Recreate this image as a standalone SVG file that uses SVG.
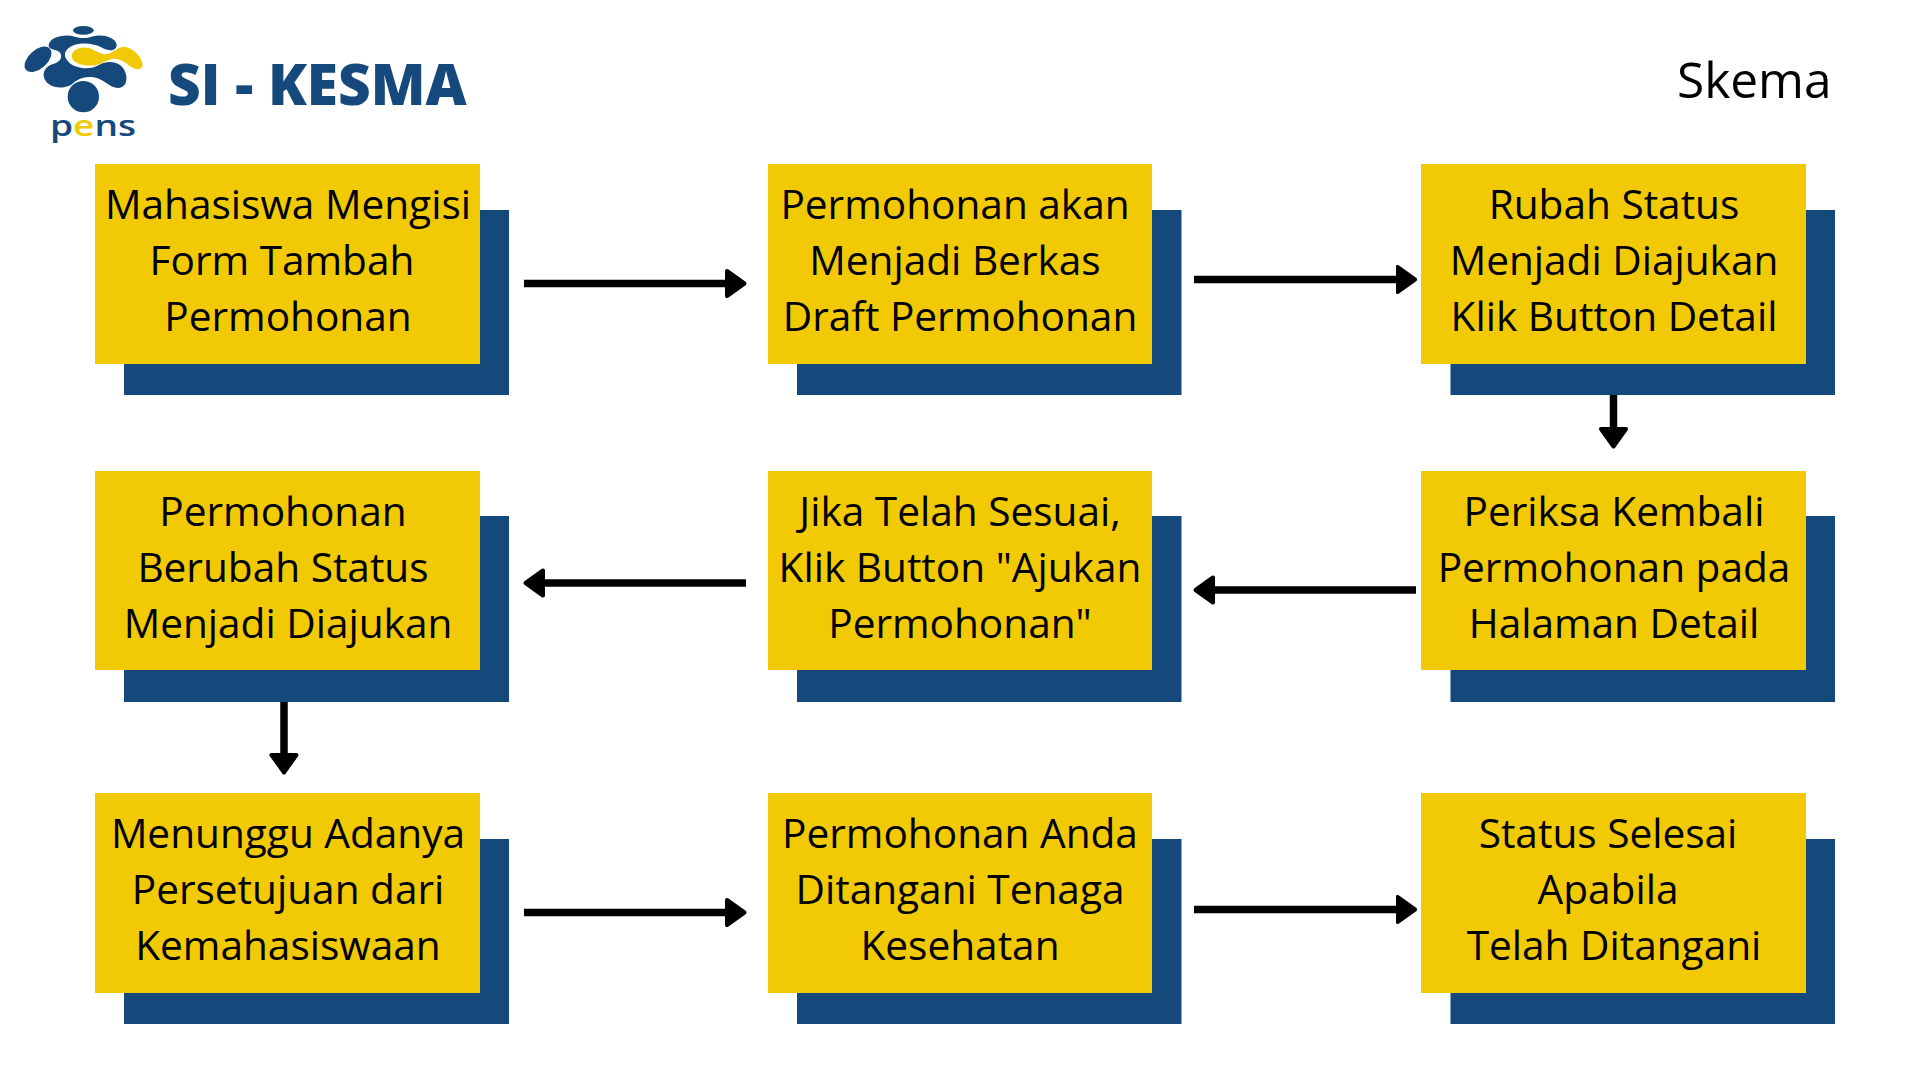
<svg xmlns="http://www.w3.org/2000/svg" width="1920" height="1080" viewBox="0 0 1920 1080">
<style>
.box{fill:#f1ca05}
.shadow{fill:#15497c}
.label{font-family:"Open Sans","Noto Sans",sans-serif;font-size:40.6px;fill:#000;text-anchor:middle}
.flow{fill:none;stroke:#000;stroke-width:7.5}
.blue{fill:#15497c}
.yellow{fill:#f1ca05}
</style>
<defs>
<marker id="head" markerUnits="userSpaceOnUse" viewBox="0 -16 24 32" markerWidth="24" markerHeight="32" refX="2" refY="0" orient="auto">
<path d="M2,-12.5 L19.5,0 L2,12.5 Z" fill="#000" stroke="#000" stroke-width="4" stroke-linejoin="round"/>
</marker>
</defs>
<rect width="1920" height="1080" fill="#fff"/>
<g id="logo">
<g transform="translate(20,20) scale(.33333)">
<ellipse class="blue" cx="190" cy="31" rx="31" ry="13"/>
<ellipse class="blue" cx="54" cy="118" rx="48" ry="28" transform="rotate(-42 54 118)"/>
<circle class="blue" cx="190" cy="230" r="47"/>
<path class="blue" d="M86,74 C90,52 132,40 165,50 C180,55 200,55 215,50 C245,40 286,50 290,74 C290,94 266,94 248,84 C225,70 185,66 160,76 C134,86 126,108 146,126 C165,146 210,152 238,134 C265,120 300,124 314,152 C326,178 318,204 292,204 C265,202 252,176 220,172 C192,168 172,178 154,194 C128,208 88,206 74,178 C64,156 80,136 100,132 C122,126 130,108 118,96 C106,86 84,90 86,74 Z"/>
<path class="yellow" d="M155,108 C155,88 185,78 207,84 C226,90 240,104 262,102 C282,98 290,82 312,80 C342,82 368,116 368,135 C366,152 345,150 332,140 C315,124 298,116 280,116 C262,118 250,130 225,136 C195,140 155,130 155,108 Z"/>
</g>
<text x="50" y="136" font-family="Open Sans, sans-serif" font-size="29" font-weight="600" fill="#15497c" textLength="86" lengthAdjust="spacingAndGlyphs">p<tspan fill="#f1ca05">e</tspan>ns</text>
</g>
<text id="brand" x="168" y="105" font-family="Open Sans, sans-serif" font-size="56.7" font-weight="800" fill="#15497c">SI - KESMA</text>
<text id="title" x="1677" y="98" font-family="Open Sans, sans-serif" font-size="49.6" fill="#000">Skema</text>

<g id="n1"><rect class="shadow" x="124" y="210" width="385" height="185"/><rect class="box" x="95" y="164" width="385" height="200"/><text class="label"><tspan x="288" y="219">Mahasiswa Mengisi</tspan><tspan x="282" y="275">Form Tambah</tspan><tspan x="288" y="331">Permohonan</tspan></text></g>
<g id="n2"><rect class="shadow" x="797" y="210" width="384.500" height="185"/><rect class="box" x="768" y="164" width="384" height="200"/><text class="label"><tspan x="955" y="219">Permohonan akan</tspan><tspan x="955" y="275">Menjadi Berkas</tspan><tspan x="960" y="331">Draft Permohonan</tspan></text></g>
<g id="n3"><rect class="shadow" x="1450.500" y="210" width="384.500" height="185"/><rect class="box" x="1421" y="164" width="385" height="200"/><text class="label"><tspan x="1614" y="219">Rubah Status</tspan><tspan x="1614" y="275">Menjadi Diajukan</tspan><tspan x="1614" y="331">Klik Button Detail</tspan></text></g>
<g id="n4"><rect class="shadow" x="1450.500" y="516" width="384.500" height="186"/><rect class="box" x="1421" y="471" width="385" height="199"/><text class="label"><tspan x="1614" y="526">Periksa Kembali</tspan><tspan x="1614" y="582">Permohonan pada</tspan><tspan x="1614" y="638">Halaman Detail</tspan></text></g>
<g id="n5"><rect class="shadow" x="797" y="516" width="384.500" height="186"/><rect class="box" x="768" y="471" width="384" height="199"/><text class="label"><tspan x="960" y="526">Jika Telah Sesuai,</tspan><tspan x="960" y="582">Klik Button "Ajukan</tspan><tspan x="960" y="638">Permohonan"</tspan></text></g>
<g id="n6"><rect class="shadow" x="124" y="516" width="385" height="186"/><rect class="box" x="95" y="471" width="385" height="199"/><text class="label"><tspan x="283" y="526">Permohonan</tspan><tspan x="283" y="582">Berubah Status</tspan><tspan x="288" y="638">Menjadi Diajukan</tspan></text></g>
<g id="n7"><rect class="shadow" x="124" y="839" width="385" height="185"/><rect class="box" x="95" y="793" width="385" height="200"/><text class="label"><tspan x="288" y="848">Menunggu Adanya</tspan><tspan x="288" y="904">Persetujuan dari</tspan><tspan x="288" y="960">Kemahasiswaan</tspan></text></g>
<g id="n8"><rect class="shadow" x="797" y="839" width="384.500" height="185"/><rect class="box" x="768" y="793" width="384" height="200"/><text class="label"><tspan x="960" y="848">Permohonan Anda</tspan><tspan x="960" y="904">Ditangani Tenaga</tspan><tspan x="960" y="960">Kesehatan</tspan></text></g>
<g id="n9"><rect class="shadow" x="1450.500" y="839" width="384.500" height="185"/><rect class="box" x="1421" y="793" width="385" height="200"/><text class="label"><tspan x="1608" y="848">Status Selesai</tspan><tspan x="1608" y="904">Apabila</tspan><tspan x="1614" y="960">Telah Ditangani</tspan></text></g>

<g id="connectors" class="flow" marker-end="url(#head)">
<path d="M524,283.500H727"/>
<path d="M1194,279.500H1397.500"/>
<path d="M1613.500,395V429"/>
<path d="M1416,590H1213"/>
<path d="M746,583H543"/>
<path d="M284,702V755"/>
<path d="M524,912.500H727"/>
<path d="M1194,909.500H1397.500"/>
</g>
</svg>
